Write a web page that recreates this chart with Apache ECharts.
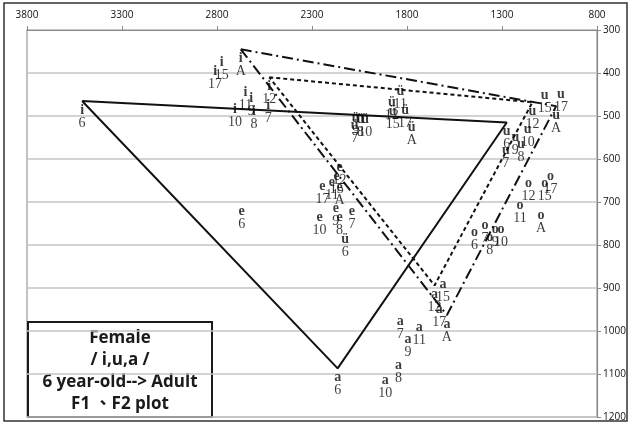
<!DOCTYPE html>
<html>
<head>
<meta charset="utf-8">
<script src="https://cdn.jsdelivr.net/npm/echarts@6/dist/echarts.min.js"></script>
<style>
  html, body { margin: 0; padding: 0; background: #fff; }
  #chart { width: 631px; height: 424px; }
</style>
</head>
<body>
<div id="chart"></div>
<script>
// Age groups (years; "A" = adult)
const ages = ['6', '7', '8', '9', '10', '11', '12', '15', '17', 'A'];

// Formant values (Hz) per vowel, in the same order as ages
const iF2 = [3510, 2530, 2605, 2620, 2705, 2650, 2525, 2775, 2810, 2675];
const iF1 = [465, 455, 468, 438, 463, 424, 410, 354, 375, 345];

const uF2 = [1275, 1280, 1200, 1230, 1165, null, 1140, 1075, 990, 1015];
const uF1 = [515, 559, 545, 529, 510, null, 468, 431, 429, 477];

const aF2 = [2165, 1835, 1845, 1795, 1915, 1735, 1655, 1610, 1630, 1590];
const aF1 = [1087, 956, 1059, 998, 1094, 970, 894, 870, 929, 963];

const eF2 = [2670, 2090, 2155, 2175, 2260, 2195, 2155, 2170, 2245, 2155];
const eF1 = [701, 701, 715, 694, 715, 633, 598, 619, 643, 645];

const yF2 = [2125, 2075, 2045, 2070, 2020, 1835, 1880, 1875, 1810, 1775];
const yF1 = [766, 501, 487, 484, 487, 422, 447, 468, 466, 505];

const oF2 = [1445, 1390, 1365, 1335, 1305, 1205, 1160, 1075, 1045, 1095];
const oF1 = [750, 733, 761, 743, 743, 687, 636, 636, 619, 710];

// Axis ranges
const f2Min = 800, f2Max = 3800, f2Step = 500;
const f1Min = 300, f1Max = 1200, f1Step = 100;

// Title box text
const titleLines = ['Female', '/ i,u,a /', '6 year-old--> Adult', 'F1 \u3001F2 plot'];

const vowels = [
  { sym: 'i', f2: iF2, f1: iF1 },
  { sym: 'u', f2: uF2, f1: uF1 },
  { sym: 'a', f2: aF2, f1: aF1 },
  { sym: 'e', f2: eF2, f1: eF1 },
  { sym: '\u00fc', f2: yF2, f1: yF1 },
  { sym: 'o', f2: oF2, f1: oF1 }
];

function points(v) {
  const out = [];
  ages.forEach((ag, k) => {
    if (v.f2[k] != null && v.f1[k] != null) out.push([v.f2[k], v.f1[k], ag]);
  });
  return out;
}

// closed /i/-/u/-/a/ triangle for one age group
function triangle(age) {
  const k = ages.indexOf(age);
  return [[iF2[k], iF1[k]], [uF2[k], uF1[k]], [aF2[k], aF1[k]], [iF2[k], iF1[k]]];
}

const serif = '"Liberation Serif", "DejaVu Serif", serif';

const scatterSeries = vowels.map(v => ({
  type: 'scatter',
  data: points(v),
  symbol: 'circle',
  symbolSize: 1,
  itemStyle: { color: 'rgba(0,0,0,0)' },
  z: 5,
  label: {
    show: true,
    position: 'bottom',
    distance: 2,
    formatter: p => '{v|' + v.sym + '}\n{n|' + p.value[2] + '}',
    rich: {
      v: { fontFamily: serif, fontSize: 14, fontWeight: 'bold', color: '#0a0a0a', lineHeight: 13, align: 'center' },
      n: { fontFamily: serif, fontSize: 14, color: '#0a0a0a', lineHeight: 13, align: 'center' }
    }
  }
}));

const lineCommon = { type: 'line', symbol: 'none', z: 3, silent: true };
const lineSeries = [
  Object.assign({}, lineCommon, { data: triangle('6'),  lineStyle: { color: '#111', width: 2, type: 'solid' } }),
  Object.assign({}, lineCommon, { data: triangle('12'), lineStyle: { color: '#111', width: 2, type: [4, 3] } }),
  Object.assign({}, lineCommon, { data: triangle('A'),  lineStyle: { color: '#111', width: 2, type: [11, 4, 2, 4] } })
];

const axisFont = {
  fontFamily: '"Open Sans", "Liberation Sans", sans-serif', fontSize: 10, color: '#111',
  formatter: v => String(v)
};

const chart = echarts.init(document.getElementById('chart'), null, { renderer: 'canvas' });
chart.setOption({
  animation: false,
  backgroundColor: '#fff',
  grid: { left: 27, right: 34, top: 30, bottom: 7, show: true, borderColor: '#9a9a9a', borderWidth: 1.2 },
  xAxis: {
    type: 'value', position: 'top', inverse: true,
    min: f2Min, max: f2Max, interval: f2Step,
    axisLine: { show: true, lineStyle: { color: '#8a8a8a', width: 1.2 } },
    axisTick: { show: true, length: 4, lineStyle: { color: '#8a8a8a' } },
    axisLabel: Object.assign({ margin: 10 }, axisFont),
    splitLine: { show: false }
  },
  yAxis: {
    type: 'value', position: 'right', inverse: true,
    min: f1Min, max: f1Max, interval: f1Step,
    axisLine: { show: true, lineStyle: { color: '#8a8a8a', width: 1.2 } },
    axisTick: { show: true, length: 4, lineStyle: { color: '#8a8a8a' } },
    axisLabel: Object.assign({ margin: 6 }, axisFont),
    splitLine: { show: true, lineStyle: { color: '#c4c4c4', width: 1.5 } }
  },
  graphic: [
    {
      type: 'rect', z: 0, silent: true,
      shape: { x: 4, y: 3, width: 623, height: 418 },
      style: { fill: 'none', stroke: '#333', lineWidth: 1.5 }
    },
    {
      type: 'group', z: 100,
      children: [
        {
          type: 'rect',
          shape: { x: 28, y: 322, width: 184, height: 95 },
          style: { fill: '#fff', stroke: '#1a1a1a', lineWidth: 2 }
        }
      ].concat(titleLines.map((t, k) => ({
        type: 'text',
        style: {
          x: 120, y: 338 + k * 22, text: t,
          textAlign: 'center', textVerticalAlign: 'middle',
          font: 'bold 17px "Open Sans", "Noto Sans CJK TC", sans-serif',
          fill: '#1a1a1a'
        }
      })))
    }
  ],
  series: lineSeries.concat(scatterSeries)
});
</script>
</body>
</html>
